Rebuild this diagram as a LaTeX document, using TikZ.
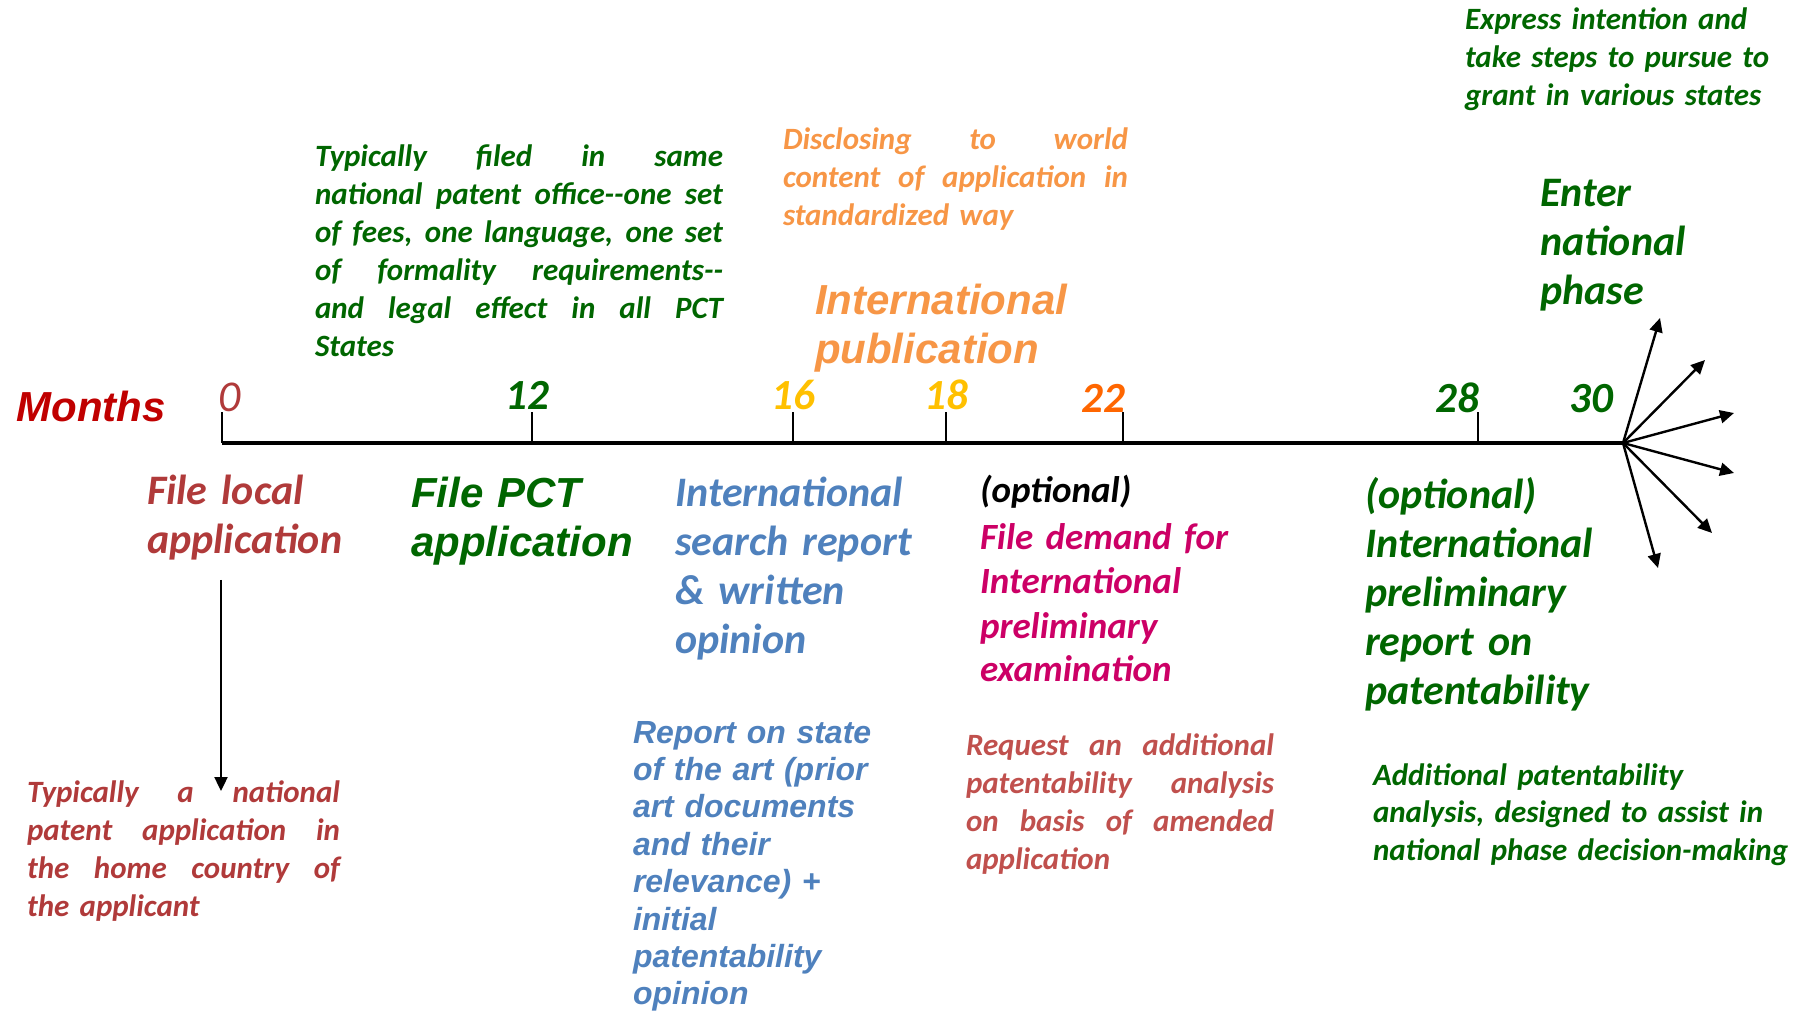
\documentclass[tikz,border=0pt]{standalone}
\usepackage{fontspec}
\setmainfont{Carlito}
\newfontfamily\arialfont{Liberation Sans}
\usetikzlibrary{arrows.meta}
\definecolor{dgreen}{HTML}{006600}
\definecolor{dred}{HTML}{B03A3A}
\definecolor{mred}{HTML}{C00000}
\definecolor{iblue}{HTML}{4F81BD}
\definecolor{porange}{HTML}{F79646}
\definecolor{dmagenta}{HTML}{CC0066}
\definecolor{gold}{HTML}{FFC000}
\definecolor{rorange}{HTML}{FF6600}
\definecolor{rred}{HTML}{C0504D}
% one justified line of a note
\newcommand{\jl}[1]{\leavevmode\hbox to\hsize{\spaceskip=0pt\xspaceskip=0pt\relax#1}}
\newcommand{\dd}{-\kern0pt-}

\begin{document}
\begin{tikzpicture}[x=0.5pt,y=-0.5pt,
    txt/.style={anchor=base west,inner sep=0pt,outer sep=0pt,align=left,text width=#1},
    txt/.default=260pt,
    note/.style={txt=#1,font=\fontsize{15.5}{19}\selectfont\bfseries\itshape},
    note/.default=260pt,
    mid/.style={txt,font=\fontsize{18.5}{22}\selectfont\bfseries\itshape},
    big/.style={txt,font=\fontsize{21}{24.5}\selectfont\bfseries\itshape},
    arialbig/.style={txt,font=\arialfont\fontsize{21}{24.5}\selectfont\bfseries\itshape},
    month/.style={anchor=base,inner sep=0pt,font=\fontsize{21.5}{24}\selectfont\bfseries\itshape},
    tickline/.style={line width=1.2pt},
    arrow/.style={line width=1.2pt,-{Triangle[length=7pt,width=6.5pt]}}]
  \useasboundingbox (0,0) rectangle (1809,1015);

  % time axis
  \coordinate (start) at (222,443);
  \coordinate (hub) at (1623,443);
  \draw[line width=1.6pt] (start) -- (hub);
  \foreach \x/\n in {222/0, 532/12, 793/16, 946/18, 1123/22, 1478/28} {
    \coordinate (t\n) at (\x,443);
    \draw[tickline] (t\n) -- ++(0,-31);
  }

  % month labels
  \node[anchor=base west,inner sep=0pt,font=\arialfont\fontsize{21}{24}\selectfont\bfseries\itshape,text=mred] (months) at (16,422) {Months};
  \node[month,font=\fontsize{22}{24}\selectfont\itshape,text=dred] (m0) at (230,412) {0};
  \node[month,text=dgreen] (m12) at (527,410) {12};
  \node[month,text=gold] (m16) at (793,410) {16};
  \node[month,text=gold] (m18) at (946,410) {18};
  \node[month,text=rorange] (m22) at (1103,413) {22};
  \node[month,text=dgreen] (m28) at (1457,413) {28};
  \node[month,text=dgreen] (m30) at (1591,413) {30};

  % above the axis
  \node[note=204pt,text=dgreen] (samefee) at (315,167) {\jl{Typically filed in same}\\
    \jl{national patent office\dd one set}\\ \jl{of fees, one language, one set}\\
    \jl{of formality requirements\dd}\\ \jl{and legal effect in all PCT}\\ States};
  \node[note=172.5pt,text=porange] (disclose) at (783,150) {\jl{Disclosing to world}\\
    \jl{content of application in}\\ standardized way};
  \node[arialbig,text=porange] (intpub) at (815,315) {International\\ publication};
  \node[note,text=dgreen] (express) at (1465,30) {Express intention and\\
    take steps to pursue to\\ grant in various states};
  \node[big,text=dgreen] (enter) at (1540,207) {Enter\\ national\\ phase};

  % below the axis
  \node[big,text=dred] (local) at (147,505) {File local\\ application};
  \node[arialbig,text=dgreen] (pct) at (411,508) {File PCT\\ application};
  \node[big,text=iblue] (isr) at (675,507) {International\\ search report\\ \& written\\ opinion};
  \node[mid] (opt) at (980,503) {(optional)};
  \node[mid,text=dmagenta] (demand) at (980,550) {File demand for\\ International\\ preliminary\\ examination};
  \node[big,text=dgreen] (iprp) at (1365,509) {(optional)\\ International\\ preliminary\\ report on\\ patentability};

  % notes at the bottom
  \node[note=156.5pt,text=dred] (localnote) at (27,802) {\jl{Typically a national}\\
    \jl{patent application in}\\ \jl{the home country of}\\ the applicant};
  \node[txt,font=\arialfont\fontsize{16}{18.7}\selectfont\bfseries\itshape,text=iblue] (report) at (633,743)
    {Report on state\\ of the art (prior\\ art documents\\ and their\\ relevance) +\\ initial\\ patentability\\ opinion};
  \node[note=154pt,text=rred] (request) at (966,755) {\jl{Request an additional}\\
    \jl{patentability analysis}\\ \jl{on basis of amended}\\ application};
  \node[note,text=dgreen,font=\fontsize{15.5}{18.8}\selectfont\bfseries\itshape] (addl) at (1373,785)
    {Additional patentability\\ analysis, designed to assist in\\ national phase decision-making};

  % arrows
  \coordinate (drop) at (221,580);
  \coordinate (dropend) at (221,791);
  \draw[arrow] (drop) -- (dropend);
  \foreach [count=\i] \x/\y in {1660/318, 1705/360, 1734/413, 1734/473, 1712/533, 1658/568} {
    \coordinate (fan\i) at (\x,\y);
    \draw[arrow] (hub) -- (fan\i);
  }
\end{tikzpicture}
\end{document}
